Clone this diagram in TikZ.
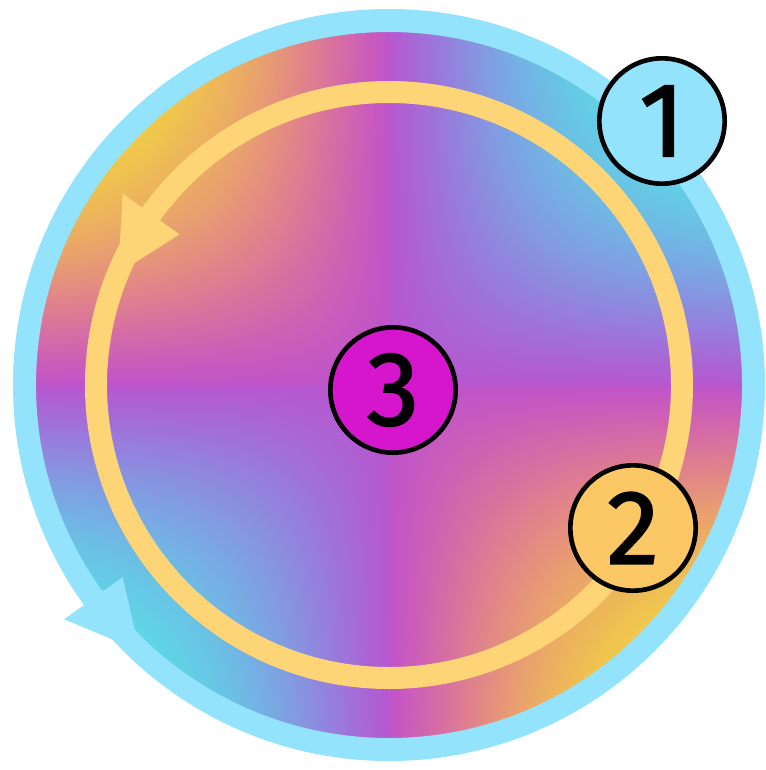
\documentclass[tikz,border=0pt]{standalone}
\usepackage{fontspec}
\setmainfont{Fira Sans}
\newfontfamily\digitfont{Fira Sans}[FakeBold=1.6]
\definecolor{skyring}{RGB}{147,227,253}
\definecolor{sunring}{RGB}{253,213,118}
\definecolor{circone}{RGB}{147,227,253}
\definecolor{circtwo}{RGB}{252,200,101}
\definecolor{circthree}{RGB}{214,22,204}
\pgfdeclarefunctionalshading{diskshade}{\pgfpoint{-264bp}{-264bp}}{\pgfpoint{264bp}{264bp}}{}{
264 div 1.8 mul dup dup mul 1 add sqrt div
exch 264 div 1.8 mul dup dup mul 1 add sqrt div
mul 0.618 div
dup 1 gt {pop 1} if dup -1 lt {pop -1} if
dup 0 lt {neg dup -0.103 mul 0.293 add 1 index mul 0.75 add 1 index dup 0.268 mul 0.192 add mul 0.33 add 2 index dup -0.11 mul -0.39 add mul 0.79 add 4 -1 roll pop}
{dup -0.011 mul -0.339 add 1 index mul 0.72 add 1 index dup 0.154 mul 0.346 add mul 0.34 add 2 index dup -0.081 mul 0.171 add mul 0.81 add 4 -1 roll pop} ifelse
}
\tikzset{
  numcircle/.style={circle, draw=black, line width=3.5pt, minimum size=94pt, inner sep=0pt,
    font=\digitfont\fontsize{79}{79}\selectfont},
  bluering/.style={draw=skyring, line width=17.25pt},
  yellowring/.style={draw=sunring, line width=16.5pt},
}
\begin{document}
\begin{tikzpicture}[x=0.75pt,y=-0.75pt]
\useasboundingbox (0,0) rectangle (766,770);
\coordinate (c) at (389,385);
% gradient disk
\begin{scope}
  \clip (c) circle (353.5);
  \node[inner sep=0pt, outer sep=0pt] at (c) {\pgfuseshading{diskshade}};
\end{scope}
% outer blue ring with arrowhead
\draw[bluering] (c) circle (364.5);
\coordinate (bt1) at (64.2,619.3);
\coordinate (bt2) at (122.6,577.1);
\coordinate (btip) at (139.5,650.7);
\fill[skyring] (bt1) -- (bt2) -- (btip) -- cycle;
% inner yellow ring with arrowhead
\draw[yellowring] (c) circle (293);
\coordinate (yt1) at (122.7,193.6);
\coordinate (yt2) at (179.5,234.4);
\coordinate (ytip) at (118.1,273.4);
\fill[sunring] (yt1) -- (yt2) -- (ytip) -- cycle;
% numbered circles
\node[numcircle, fill=circone] (n1) at (662,121) {1};
\node[numcircle, fill=circtwo] (n2) at (633,528) {2};
\node[numcircle, fill=circthree] (n3) at (393,390) {3};
\end{tikzpicture}
\end{document}
